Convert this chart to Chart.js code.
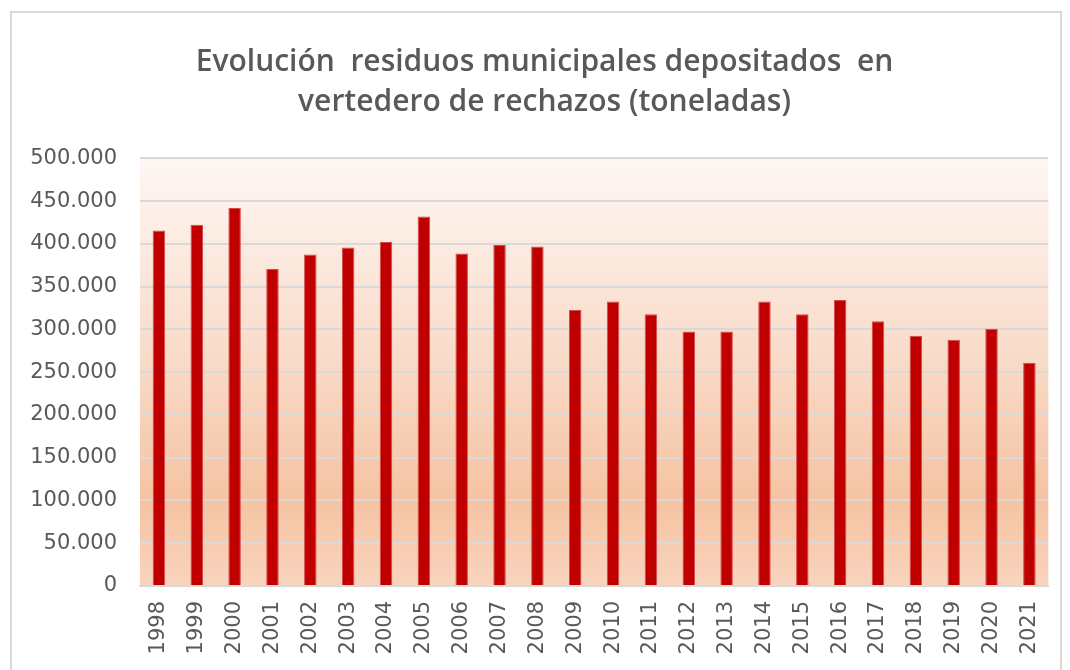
<!DOCTYPE html>
<html>
<head>
<meta charset="utf-8">
<script src="https://cdn.jsdelivr.net/npm/chart.js@4"></script>
<style>
  body { margin: 0; background: #fff; }
  #frame { position: absolute; left: 10px; top: 11px; width: 1048px; height: 670px;
           border: 2px solid #d9d9d9; border-bottom: none; }
  #wrap { position: absolute; left: 0; top: 0; width: 1070px; height: 670px; }
</style>
</head>
<body>
<div id="frame"></div>
<div id="wrap"><canvas id="Chart1"></canvas></div>
<script>
document.addEventListener("DOMContentLoaded", function () {

  const years = ["1998", "1999", "2000", "2001", "2002", "2003", "2004", "2005", "2006", "2007", "2008", "2009",
                 "2010", "2011", "2012", "2013", "2014", "2015", "2016", "2017", "2018", "2019", "2020", "2021"]
  const toneladas = [415700, 422300, 442000, 370700, 387600, 395800, 402300, 432000, 388800, 398800, 396900, 322700,
                     332600, 317700, 297700, 297700, 332600, 317700, 334400, 309500, 292700, 288000, 300900, 260900]
  const titleLines = ["Evolución  residuos municipales depositados  en", "vertedero de rechazos (toneladas)"]

  // fondo degradado del área de trazado
  const plotBackground = {
    id: 'plotBackground',
    beforeDraw(chart) {
      const { ctx, chartArea: a } = chart
      const g = ctx.createLinearGradient(0, a.top, 0, a.bottom)
      g.addColorStop(0, '#fef7f4')
      g.addColorStop(0.45, '#f9dcca')
      g.addColorStop(0.8, '#f5c3a2')
      g.addColorStop(1, '#f9d4be')
      ctx.save()
      ctx.fillStyle = g
      ctx.fillRect(a.left, a.top, a.right - a.left, a.bottom - a.top)
      ctx.restore()
    }
  }

  const config1 = {
    type: 'bar',
    data: {
      labels: years,
      datasets: [{
        data: toneladas,
        backgroundColor: '#c00000',
        borderColor: '#d44a4a',
        borderWidth: 1,
        barPercentage: 0.66,
        categoryPercentage: 0.5
      }]
    },
    options: {
      responsive: false,
      animation: false,
      layout: { padding: { left: 0, right: 20, top: 0, bottom: 0 } },
      scales: {
        x: {
          grid: { display: false, drawTicks: false },
          border: { color: '#d9d9d9', width: 2 },
          ticks: {
            color: '#595959',
            font: { family: 'DejaVu Sans', size: 21 },
            minRotation: 90,
            maxRotation: 90,
            padding: 15,
            autoSkip: false
          },
          afterFit: function (scale) { scale.height = 84 }
        },
        y: {
          min: 0,
          max: 500000,
          grid: { color: '#d9d9d9', lineWidth: 2, drawTicks: false },
          border: { display: false },
          ticks: {
            stepSize: 50000,
            color: '#595959',
            font: { family: 'DejaVu Sans', size: 21 },
            padding: 23,
            callback: function (v) { return v.toLocaleString('de-DE') }
          },
          afterFit: function (scale) { scale.width = 140 }
        }
      },
      plugins: {
        title: {
          display: true,
          // leading spaces nudge the centred title to the right
          text: titleLines.map(function (t) { return '     ' + t }),
          color: '#595959',
          font: { family: 'Open Sans', size: 30, weight: '600', lineHeight: 1.34 },
          padding: { top: 42, bottom: 36 }
        },
        legend: { display: false },
        tooltip: { enabled: false }
      }
    },
    plugins: [plotBackground]
  };

  const canvas = document.getElementById('Chart1')
  canvas.width = 1070
  canvas.height = 670
  var myChart1 = new Chart(canvas, config1);
})
</script>
</body>
</html>
